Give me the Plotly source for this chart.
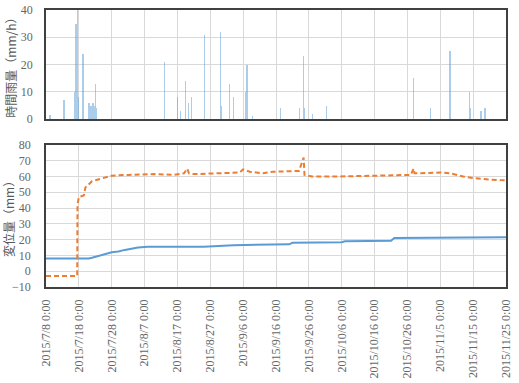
import plotly.graph_objects as go
from plotly.subplots import make_subplots

# Hourly rainfall events (mm/h)
rain_time = [
    "2015-07-09 05:00", "2015-07-13 12:00", "2015-07-16 20:00", "2015-07-17 00:00",
    "2015-07-17 02:00", "2015-07-17 04:00", "2015-07-17 06:00", "2015-07-17 08:00",
    "2015-07-17 10:00", "2015-07-17 12:00", "2015-07-17 14:00", "2015-07-17 16:00",
    "2015-07-17 19:00", "2015-07-19 07:00", "2015-07-21 02:00", "2015-07-21 10:00",
    "2015-07-21 17:00", "2015-07-22 08:00", "2015-07-22 16:00", "2015-07-23 00:00",
    "2015-07-23 06:00", "2015-08-13 00:00", "2015-08-17 00:00", "2015-08-17 21:00",
    "2015-08-19 10:00", "2015-08-20 07:00", "2015-08-21 05:00", "2015-08-25 05:00",
    "2015-08-30 02:00", "2015-08-30 06:00", "2015-09-01 19:00", "2015-09-03 00:00",
    "2015-09-06 17:00", "2015-09-07 05:00", "2015-09-08 19:00", "2015-09-17 10:00",
    "2015-09-23 05:00", "2015-09-24 10:00", "2015-09-24 17:00", "2015-09-27 03:00",
    "2015-10-01 10:00", "2015-10-27 22:00", "2015-11-02 03:00", "2015-11-07 22:00",
    "2015-11-08 02:00", "2015-11-14 00:00", "2015-11-14 07:00", "2015-11-17 10:00",
    "2015-11-18 14:00",
]
rain_value = [
    1.5, 7, 10, 12,
    18, 35, 22, 20,
    14, 40, 12, 15,
    8, 24, 6, 5,
    5, 6, 5, 13,
    4, 21, 8, 3,
    14, 6, 8, 31,
    32, 5, 13, 8,
    10, 20, 1, 4,
    4, 23, 4, 2,
    5, 15, 4, 25,
    8, 10, 4, 3,
    4,
]

# Displacement series (mm)
blue_time = [
    "2015-07-08", "2015-07-21", "2015-07-22", "2015-07-26", "2015-07-28",
    "2015-07-30", "2015-08-01", "2015-08-05", "2015-08-08", "2015-08-25",
    "2015-09-03", "2015-09-20", "2015-09-21", "2015-10-06", "2015-10-07",
    "2015-10-21", "2015-10-22", "2015-11-25",
]
blue_value = [
    8, 8, 8.5, 11, 12,
    12.5, 13.5, 15, 15.5, 15.5,
    16.5, 17, 18, 18.3, 19,
    19.3, 21, 21.5,
]

orange_time = [
    "2015-07-08", "2015-07-17 12:00", "2015-07-17 14:00", "2015-07-18", "2015-07-19 12:00",
    "2015-07-20", "2015-07-22", "2015-07-25", "2015-07-28", "2015-08-02",
    "2015-08-10", "2015-08-16", "2015-08-19", "2015-08-20", "2015-08-20 12:00",
    "2015-08-22", "2015-08-30", "2015-09-05", "2015-09-06", "2015-09-08",
    "2015-09-12", "2015-09-15", "2015-09-23", "2015-09-24 10:00", "2015-09-24 16:00",
    "2015-09-27", "2015-10-05", "2015-10-15", "2015-10-27", "2015-10-27 22:00",
    "2015-10-28 04:00", "2015-11-05", "2015-11-08", "2015-11-12", "2015-11-15",
    "2015-11-20", "2015-11-25",
]
orange_value = [
    -3, -3, 42, 47, 48,
    53, 57, 59, 60.5, 61,
    61.5, 61, 62, 65, 62,
    61.5, 62, 62.5, 64.5, 63,
    62, 63, 63.5, 72, 61,
    60, 60, 60.5, 61, 65,
    62, 62.5, 62, 60, 59,
    58, 57.5,
]

tick_dates = [
    "2015-07-08", "2015-07-18", "2015-07-28", "2015-08-07", "2015-08-17",
    "2015-08-27", "2015-09-06", "2015-09-16", "2015-09-26", "2015-10-06",
    "2015-10-16", "2015-10-26", "2015-11-05", "2015-11-15", "2015-11-25",
]
tick_labels = [
    "2015/7/8 0:00", "2015/7/18 0:00", "2015/7/28 0:00", "2015/8/7 0:00", "2015/8/17 0:00",
    "2015/8/27 0:00", "2015/9/6 0:00", "2015/9/16 0:00", "2015/9/26 0:00", "2015/10/6 0:00",
    "2015/10/16 0:00", "2015/10/26 0:00", "2015/11/5 0:00", "2015/11/15 0:00", "2015/11/25 0:00",
]

fig = make_subplots(rows=2, cols=1, shared_xaxes=False)

fig.add_trace(go.Bar(x=rain_time, y=rain_value, width=2 * 3600 * 1000,
                     marker=dict(color="#5B9BD5", line=dict(width=0)), opacity=0.5,
                     showlegend=False), row=1, col=1)
fig.add_trace(go.Scatter(x=blue_time, y=blue_value, mode="lines",
                         line=dict(color="#5B9BD5", width=2), showlegend=False), row=2, col=1)
fig.add_trace(go.Scatter(x=orange_time, y=orange_value, mode="lines",
                         line=dict(color="#ED7D31", width=2, dash="5px,3px"), showlegend=False), row=2, col=1)

serif = "Liberation Serif"
cjk = "Noto Sans CJK JP"
grid = "#D9D9D9"
frame = "#404040"
xrange = ["2015-07-08", "2015-11-25"]
tickfont = dict(family=serif, size=12, color="#666666")

fig.update_layout(
    width=519, height=383,
    margin=dict(l=46, r=13, t=10, b=96),
    paper_bgcolor="white", plot_bgcolor="white",
    font=dict(family=serif, size=12, color="#666666"),
    bargap=0,
    xaxis=dict(domain=[0, 1], anchor="y", type="date", range=xrange, automargin=False,
               tickvals=tick_dates, ticktext=tick_labels, showticklabels=False,
               showgrid=True, gridcolor=grid, gridwidth=1, ticks="",
               showline=True, mirror=True, linecolor=frame, linewidth=1.5),
    yaxis=dict(domain=[0.606, 1.0], anchor="x", range=[0, 40], tickvals=[0, 10, 20, 30, 40],
               tickfont=tickfont, ticklabelstandoff=9, automargin=False,
               showgrid=True, gridcolor=grid, zeroline=False, ticks="",
               showline=True, mirror=True, linecolor=frame, linewidth=1.5,
               title=dict(text="時間雨量（mm/h）", font=dict(family=cjk, size=12, color="#595959"), standoff=2)),
    xaxis2=dict(domain=[0, 1], anchor="y2", type="date", range=xrange, automargin=False,
                tickvals=tick_dates, ticktext=tick_labels, tickangle=-90,
                tickfont=tickfont, ticklabelstandoff=6,
                showgrid=True, gridcolor=grid, gridwidth=1, ticks="",
                showline=True, mirror=True, linecolor=frame, linewidth=1.5),
    yaxis2=dict(domain=[0, 0.513], anchor="x2", range=[-10, 80], automargin=False,
                tickvals=[-10, 0, 10, 20, 30, 40, 50, 60, 70, 80],
                tickfont=tickfont, ticklabelstandoff=11,
                showgrid=True, gridcolor=grid, zeroline=False, ticks="",
                showline=True, mirror=True, linecolor=frame, linewidth=1.5,
                title=dict(text="変位量（mm）", font=dict(family=cjk, size=12, color="#595959"), standoff=2)),
)

fig.write_html("out.html")
